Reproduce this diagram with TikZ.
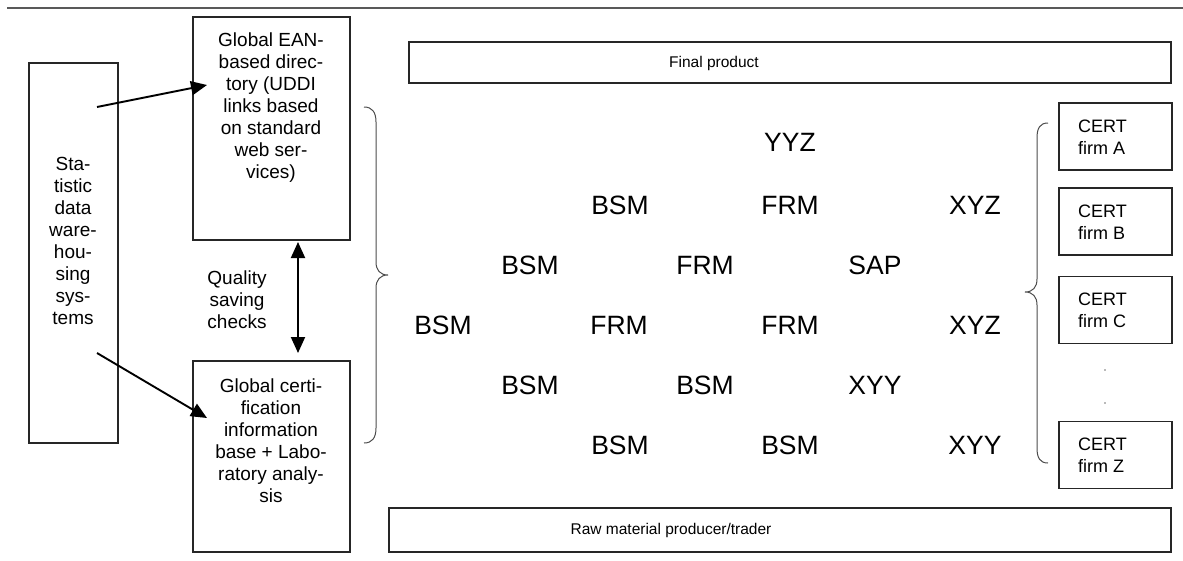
\documentclass[tikz,border=0pt]{standalone}
\usepackage{fontspec}
\setmainfont{Liberation Sans}
\usetikzlibrary{arrows.meta}

\begin{document}
\begin{tikzpicture}[x=1pt,y=-1pt]
	\tikzstyle{box}=[draw=black!85,line width=1.4pt,inner sep=0pt]
	\tikzstyle{boxtext}=[align=center,font=\fontsize{19}{22}\selectfont,inner sep=0pt]
	\tikzstyle{firm}=[align=left,anchor=west,font=\fontsize{18}{22}\selectfont,inner sep=0pt]
	\tikzstyle{mod}=[font=\fontsize{26.5}{30}\selectfont,inner sep=0pt]
	\tikzstyle{link}=[line width=1.9pt,-{Triangle[length=16pt,width=14pt]}]
	\tikzstyle{curly}=[draw=black!70,line width=1pt]
	\useasboundingbox (0,0) rectangle (1183,560);
	% rule at the top
	\draw[black!65,line width=2pt] (7,7.5) -- (1183,7.5);
	% left column
	\node[box,minimum width=89pt,minimum height=380pt](stat) at (73.5,253) {};
	\node[boxtext](stattext) at (73,241) {Sta-\\tistic\\data\\ware-\\hou-\\sing\\sys-\\tems};
	\node[box,minimum width=157pt,minimum height=223pt](ean) at (271.5,128.5) {};
	\node[boxtext](eantext) at (271,108) {Global EAN-\\based direc-\\tory (UDDI\\links based\\on standard\\web ser-\\vices)};
	\node[box,minimum width=157pt,minimum height=191pt](cert) at (271.5,456.5) {};
	\node[boxtext](certtext) at (271,441) {Global certi-\\fication\\information\\base + Labo-\\ratory analy-\\sis};
	\node[boxtext](quality) at (237,300) {Quality\\saving\\checks};
	% arrows
	\coordinate (s1) at (97,107);
	\coordinate (e1) at (207,85);
	\coordinate (s2) at (97,353);
	\coordinate (e2) at (207,418);
	\coordinate (q1) at (298,242);
	\coordinate (q2) at (298,353);
	\draw[link](s1) -- (e1);
	\draw[link](s2) -- (e2);
	\draw[link,{Triangle[length=16pt,width=14pt]}-{Triangle[length=16pt,width=14pt]}](q1) -- (q2);
	% braces
	\draw[curly] (364,107) .. controls (372,107) and (376,112) .. (376,122) -- (376,262)
		.. controls (376,270) and (380,275) .. (388,275) .. controls (380,275) and (376,280) .. (376,288)
		-- (376,428) .. controls (376,438) and (372,443) .. (364,443);
	\draw[curly] (1048,123) .. controls (1040,123) and (1037,128) .. (1037,138) -- (1037,279)
		.. controls (1037,287) and (1033,292) .. (1025,292) .. controls (1033,292) and (1037,297) .. (1037,305)
		-- (1037,448) .. controls (1037,458) and (1040,463) .. (1048,463);
	% top and bottom bars
	\node[box,minimum width=762pt,minimum height=41pt](final) at (790,62.5) {};
	\node[font=\fontsize{15.5}{18}\selectfont,inner sep=0pt](finaltext) at (714,63) {Final product};
	\node[box,minimum width=782pt,minimum height=44pt](raw) at (780,530) {};
	\node[font=\fontsize{15.5}{18}\selectfont,inner sep=0pt](rawtext) at (671,530) {Raw material producer/trader};
	% certification firms
	\node[box,minimum width=113pt,minimum height=67pt](firmA) at (1115.5,136.5) {};
	\node[box,minimum width=113pt,minimum height=67pt](firmB) at (1115.5,221.5) {};
	\node[box,minimum width=113pt,minimum height=67pt](firmC) at (1115.5,310) {};
	\node[box,minimum width=113pt,minimum height=67pt](firmZ) at (1115.5,455) {};
	\node[firm](firmAtext) at (1078,137) {CERT\\firm A};
	\node[firm](firmBtext) at (1078,222) {CERT\\firm B};
	\node[firm](firmCtext) at (1078,310.5) {CERT\\firm C};
	\node[firm](firmZtext) at (1078,455.5) {CERT\\firm Z};
	\fill[black!55] (1105,370) circle (0.9);
	\fill[black!55] (1105,403) circle (0.9);
	% modules
	\node[mod](m1) at (790,142) {YYZ};
	\node[mod](m2) at (620,205) {BSM};
	\node[mod](m3) at (790,205) {FRM};
	\node[mod](m4) at (975,205) {XYZ};
	\node[mod](m5) at (530,265) {BSM};
	\node[mod](m6) at (705,265) {FRM};
	\node[mod](m7) at (875,265) {SAP};
	\node[mod](m8) at (443,325) {BSM};
	\node[mod](m9) at (619,325) {FRM};
	\node[mod](m10) at (790,325) {FRM};
	\node[mod](m11) at (975,325) {XYZ};
	\node[mod](m12) at (530,385) {BSM};
	\node[mod](m13) at (705,385) {BSM};
	\node[mod](m14) at (875,385) {XYY};
	\node[mod](m15) at (620,445) {BSM};
	\node[mod](m16) at (790,445) {BSM};
	\node[mod](m17) at (975,445) {XYY};
\end{tikzpicture}
\end{document}
